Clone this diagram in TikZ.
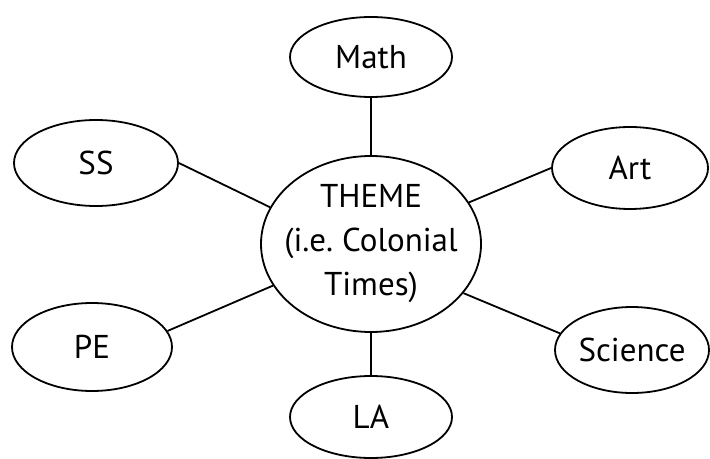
\documentclass[tikz,border=0pt]{standalone}
\usepackage{fontspec}
\setmainfont{PT Sans}
\usetikzlibrary{shapes.geometric}

\begin{document}
\begin{tikzpicture}[x=0.5pt, y=-0.5pt, line width=0.9pt,
  every node/.style={font=\fontsize{16.5}{22}\selectfont},
  topic/.style={draw, ellipse, inner sep=0pt, minimum width=80pt, minimum height=42pt},
  hub/.style={draw, ellipse, inner xsep=-7pt, inner ysep=0pt, minimum width=110pt, minimum height=88pt, align=center}]
\useasboundingbox (0,0) rectangle (710,459);
% the theme in the middle
\node[hub] (theme) at (371,244) {THEME\\(i.e.\ Colonial\\Times)};
% subjects round it
\node[topic, minimum width=81pt, minimum height=40pt] (math) at (371,57) {Math};
\node[topic, minimum width=82pt, minimum height=43pt] (ss) at (96,163) {SS};
\node[topic, minimum width=80pt, minimum height=44pt] (pe) at (92,347) {PE};
\node[topic, minimum width=78pt, minimum height=41pt] (art) at (630,168) {Art};
\node[topic, minimum width=77pt, minimum height=43pt] (sci) at (632,350) {Science};
\node[topic, minimum width=81pt, minimum height=41pt] (la) at (371,417) {LA};
% spokes
\draw (math.south) -- (theme.north);
\draw (ss.east) -- (theme.160);
\draw (pe.12) -- (theme.203);
\draw (art.west) -- (theme.23);
\draw (sci.167) -- (theme.332);
\draw (theme.south) -- (la.north);
\end{tikzpicture}
\end{document}
